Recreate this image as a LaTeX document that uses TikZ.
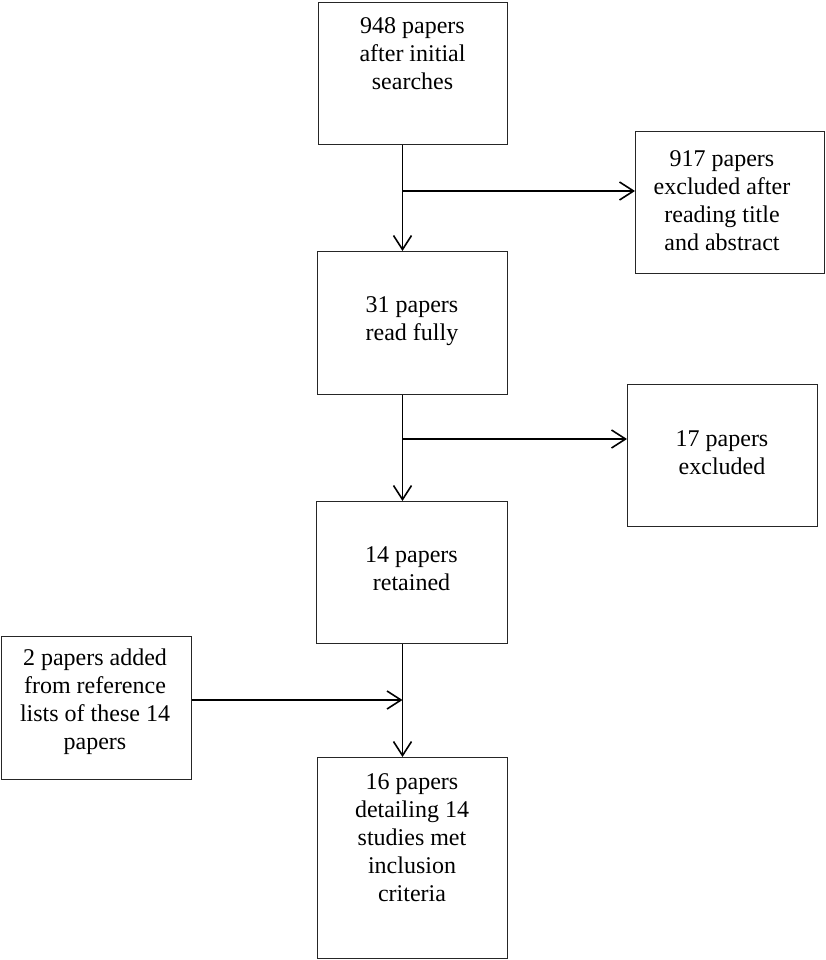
\documentclass[tikz,border=0pt]{standalone}
\usepackage{fontspec}
\setmainfont{Liberation Serif}
\usetikzlibrary{arrows.meta}
\begin{document}
\begin{tikzpicture}[x=0.75pt,y=-0.75pt,
  boxnode/.style={draw=black!85,line width=1pt,inner sep=0pt,anchor=north west},
  txt/.style={align=center,inner sep=0pt,font=\fontsize{18pt}{21pt}\selectfont},
  conn/.style={line width=1.2pt,-{Straight Barb[length=10.5pt,width=13.5pt,line width=1.2pt]}},
  plain/.style={line width=1.2pt}]
\useasboundingbox (0,0) rectangle (825,960);
% boxes
\node[boxnode,minimum width=189*0.75pt,minimum height=142*0.75pt] (b1) at (318,2) {};
\node[boxnode,minimum width=190*0.75pt,minimum height=143*0.75pt] (b2) at (317,251) {};
\node[boxnode,minimum width=191*0.75pt,minimum height=142*0.75pt] (b3) at (316,501) {};
\node[boxnode,minimum width=190*0.75pt,minimum height=201*0.75pt] (b4) at (317,757) {};
\node[boxnode,minimum width=189*0.75pt,minimum height=142*0.75pt] (r1) at (635,131) {};
\node[boxnode,minimum width=190*0.75pt,minimum height=142*0.75pt] (r2) at (627,384) {};
\node[boxnode,minimum width=190*0.75pt,minimum height=143*0.75pt] (l1) at (1,636) {};
% texts
\node[txt] (t1) at (412.5,54) {948 papers\\after initial\\searches};
\node[txt] (t2) at (412,321.5) {31 papers\\read fully};
\node[txt] (t3) at (411.5,568.5) {14 papers\\retained};
\node[txt] (t4) at (412,838) {16 papers\\detailing 14\\studies met\\inclusion\\criteria};
\node[txt] (tr1) at (722,201) {917 papers\\excluded after\\reading title\\and abstract};
\node[txt] (tr2) at (722,452.5) {17 papers\\excluded};
\node[txt] (tl1) at (95,702) {2 papers added\\from reference\\lists of these 14\\papers};
% junctions
\coordinate (j1) at (402.5,191);
\coordinate (j2) at (402.5,439);
\coordinate (j3) at (402.5,700);
% connectors
\draw[conn] (b1.south -| j1) -- (b2.north -| j1);
\draw[conn] (j1) -- (r1.west |- j1);
\draw[conn] (b2.south -| j2) -- (b3.north -| j2);
\draw[conn] (j2) -- (r2.west |- j2);
\draw[conn] (b3.south -| j3) -- (b4.north -| j3);
\draw[conn] (l1.east |- j3) -- (j3);
\end{tikzpicture}
\end{document}
